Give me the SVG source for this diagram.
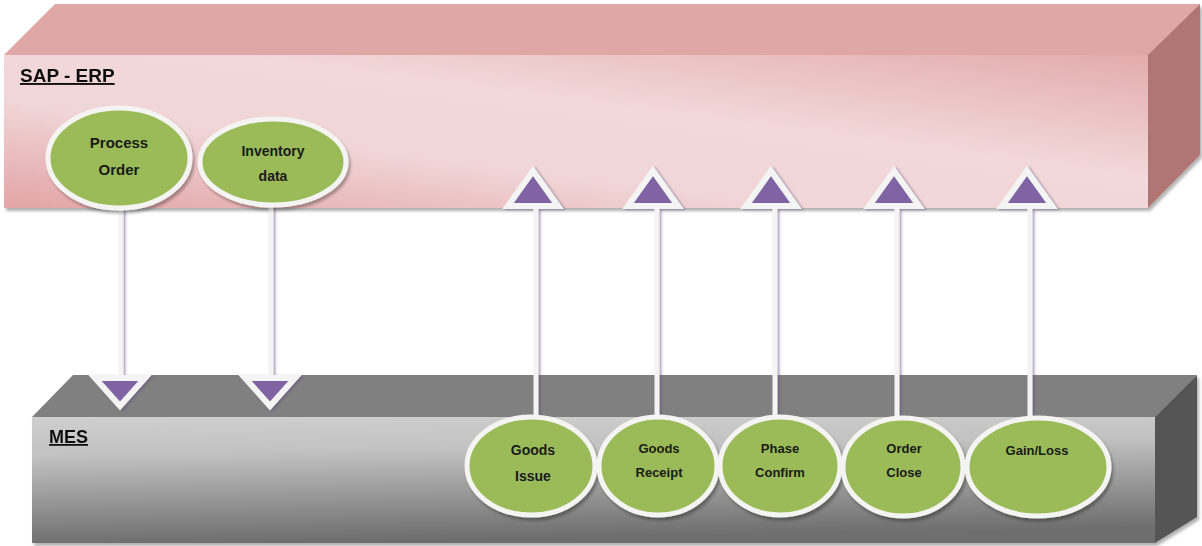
<svg xmlns="http://www.w3.org/2000/svg" width="1202" height="546" viewBox="0 0 1202 546">
<defs>
<linearGradient id="sapFront" x1="0" y1="1" x2="1" y2="0">
<stop offset="0" stop-color="#E3A4A6"/>
<stop offset="0.35" stop-color="#F1D6D7"/>
<stop offset="0.6" stop-color="#F2D8D9"/>
<stop offset="1" stop-color="#E3ABAC"/>
</linearGradient>
<linearGradient id="mesFront" x1="0" y1="0" x2="0.15" y2="1">
<stop offset="0" stop-color="#CFCFCF"/>
<stop offset="0.3" stop-color="#C2C2C2"/>
<stop offset="1" stop-color="#6E6E6E"/>
</linearGradient>
<filter id="sh" x="-10%" y="-10%" width="130%" height="130%">
<feDropShadow dx="2" dy="3" stdDeviation="1.5" flood-color="#000" flood-opacity="0.3"/>
</filter>
<filter id="lsh" x="-50%" y="-10%" width="200%" height="120%">
<feDropShadow dx="2" dy="1" stdDeviation="0.8" flood-color="#5a4a80" flood-opacity="0.5"/>
</filter>
<style>
.ell{fill:#9BBB59;stroke:#F4F4F2;stroke-width:5;filter:url(#sh)}
.lbl{font-family:"Liberation Sans",Arial,sans-serif;font-weight:bold;fill:#1a1a1a;text-anchor:middle}
.ttl{font-family:"Liberation Sans",Arial,sans-serif;font-weight:bold;fill:#111;text-decoration:underline}
.ln{stroke:#F4F4F4;stroke-width:5;fill:none}
.tri{fill:#8064A2;stroke:#F4F4F4;stroke-width:6;stroke-linejoin:miter}
</style>
</defs>

<g id="sap-erp" filter="url(#sh)">
<polygon points="4,55 55,4 1200,4 1148,55" fill="#E0A7A7"/>
<polygon points="1148,55 1200,4 1200,155 1148,208" fill="#B07674"/>
<rect x="4" y="55" width="1144" height="153" fill="url(#sapFront)"/>
<text class="ttl" x="20" y="82" font-size="19">SAP - ERP</text>
</g>

<g id="mes" filter="url(#sh)">
<polygon points="32,417 73,375 1197,375 1155,417" fill="#808080"/>
<polygon points="1155,417 1197,375 1197,517 1155,543" fill="#555555"/>
<rect x="32" y="417" width="1123" height="126" fill="url(#mesFront)"/>
<text class="ttl" x="49" y="443" font-size="18">MES</text>
</g>

<g id="connectors" filter="url(#lsh)">
<line class="ln" x1="121" y1="208" x2="121" y2="378"/>
<polygon class="tri" points="95,378 145,378 120,406"/>
<line class="ln" x1="271" y1="205" x2="271" y2="378"/>
<polygon class="tri" points="245,378 295,378 270,406"/>

<line class="ln" x1="536" y1="206" x2="536" y2="416"/>
<polygon class="tri" points="508,206 558,206 533,171"/>
<line class="ln" x1="657" y1="206" x2="657" y2="416"/>
<polygon class="tri" points="628,206 678,206 653,171"/>
<line class="ln" x1="775" y1="206" x2="775" y2="416"/>
<polygon class="tri" points="746,206 796,206 771,171"/>
<line class="ln" x1="897" y1="206" x2="897" y2="416"/>
<polygon class="tri" points="869,206 919,206 894,171"/>
<line class="ln" x1="1030" y1="206" x2="1030" y2="416"/>
<polygon class="tri" points="1002,206 1052,206 1027,171"/>
</g>

<g id="process-order">
<ellipse class="ell" cx="119" cy="158" rx="71" ry="50"/>
<text class="lbl" x="119" y="148" font-size="15">Process</text>
<text class="lbl" x="119" y="175" font-size="15">Order</text>
</g>
<g id="inventory-data">
<ellipse class="ell" cx="273" cy="162" rx="73" ry="43"/>
<text class="lbl" x="273" y="156" font-size="14">Inventory</text>
<text class="lbl" x="273" y="181" font-size="14">data</text>
</g>

<g id="goods-issue">
<ellipse class="ell" cx="531" cy="466" rx="64" ry="49"/>
<text class="lbl" x="533" y="455" font-size="14">Goods</text>
<text class="lbl" x="533" y="481" font-size="14">Issue</text>
</g>
<g id="goods-receipt">
<ellipse class="ell" cx="658" cy="466" rx="59" ry="49"/>
<text class="lbl" x="659" y="453" font-size="13">Goods</text>
<text class="lbl" x="659" y="477" font-size="13">Receipt</text>
</g>
<g id="phase-confirm">
<ellipse class="ell" cx="780" cy="466" rx="60" ry="49"/>
<text class="lbl" x="780" y="453" font-size="13">Phase</text>
<text class="lbl" x="780" y="477" font-size="13">Confirm</text>
</g>
<g id="order-close">
<ellipse class="ell" cx="903" cy="467" rx="60" ry="49"/>
<text class="lbl" x="904" y="453" font-size="13">Order</text>
<text class="lbl" x="904" y="477" font-size="13">Close</text>
</g>
<g id="gain-loss">
<ellipse class="ell" cx="1038" cy="467" rx="71" ry="49"/>
<text class="lbl" x="1037" y="455" font-size="13">Gain/Loss</text>
</g>
</svg>
